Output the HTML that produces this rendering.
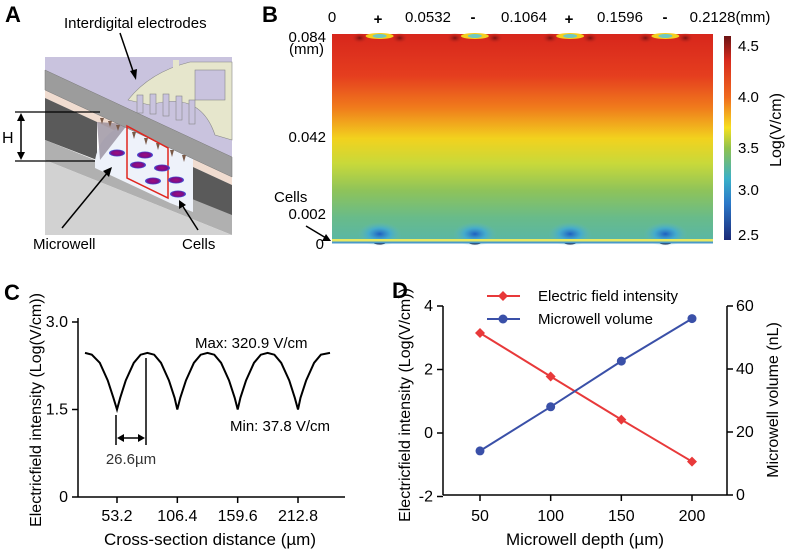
<!DOCTYPE html>
<html><head><meta charset="utf-8"><style>
body{margin:0;background:#fff;}
svg{display:block;font-family:"Liberation Sans",Arial,sans-serif;}
</style></head><body>
<svg id="fig" width="787" height="551" viewBox="0 0 787 551" xmlns="http://www.w3.org/2000/svg">
<defs>
<linearGradient id="fieldGrad" x1="0" y1="0" x2="0" y2="1">
<stop offset="0" stop-color="#d7261c"/><stop offset="0.2" stop-color="#e53e1f"/>
<stop offset="0.35" stop-color="#f07a1c"/><stop offset="0.5" stop-color="#f2d21e"/>
<stop offset="0.62" stop-color="#c8d93a"/><stop offset="0.75" stop-color="#8ec35a"/>
<stop offset="0.88" stop-color="#68bb8a"/><stop offset="1" stop-color="#58b6a8"/>
</linearGradient>
<linearGradient id="cbGrad" x1="0" y1="0" x2="0" y2="1">
<stop offset="0" stop-color="#6b1414"/><stop offset="0.12" stop-color="#d82a1e"/>
<stop offset="0.3" stop-color="#f06a1e"/><stop offset="0.45" stop-color="#f6e01e"/>
<stop offset="0.55" stop-color="#8fc24e"/><stop offset="0.7" stop-color="#3ab0c8"/>
<stop offset="0.82" stop-color="#2b78c8"/><stop offset="1" stop-color="#1b2a78"/>
</linearGradient>
<radialGradient id="blueSpot"><stop offset="0" stop-color="#1e5fc0"/><stop offset="0.5" stop-color="#3aa6e0" stop-opacity="0.7"/><stop offset="1" stop-color="#60b8c0" stop-opacity="0"/></radialGradient>
<radialGradient id="darkSpot"><stop offset="0" stop-color="#7a1010"/><stop offset="1" stop-color="#c82a1e" stop-opacity="0"/></radialGradient>
<radialGradient id="cellGrad"><stop offset="0" stop-color="#a0107a"/><stop offset="0.7" stop-color="#7a0c8a"/><stop offset="1" stop-color="#4060e0"/></radialGradient>
</defs>

<!-- Panel A -->
<g>
<text x="5" y="22" font-size="22" font-weight="bold">A</text>
<polygon points="45,57 232,57 232,157 45,70" fill="#c9c3de"/>
<polygon points="45,90 232,177 232,185 45,98" fill="#f0dcd0"/>
<polygon points="45,98 97,122 97,160 45,140" fill="#5a5a5a"/>
<polygon points="193,167 232,185 232,233 193,215" fill="#5a5a5a"/>
<polygon points="45,140 232,215 232,235 45,160" fill="#b0b0b0"/>
<polygon points="45,160 232,235 45,235" fill="#d2d2d2"/>
<path d="M95,160 Q100,132 128,124 L193,152 L193,212 L170,203 L95,168 Z" fill="#eef2fa"/>
<polygon points="97,122 128,124 100,160" fill="#8a8090" opacity="0.7"/>
<g>
<path d="M128,100 Q150,72 190,62 L232,62 L232,140 L215,135 Q200,90 150,105 Z" fill="#e6e6cc" stroke="#888" stroke-width="0.6"/>
<rect x="173" y="60" width="6" height="18" fill="#e6e6cc"/>
<rect x="195" y="70" width="30" height="30" fill="#c9c3de" stroke="#888" stroke-width="0.6"/>
<g fill="#c9c3de" stroke="#888" stroke-width="0.6">
<rect x="137" y="95" width="6" height="18"/><rect x="150" y="94" width="6" height="20"/>
<rect x="163" y="94" width="6" height="22"/><rect x="176" y="96" width="6" height="24"/>
<rect x="189" y="100" width="6" height="24"/>
</g>
</g>
<polygon points="45,70 232,157 232,177 45,90" fill="#9c9c9c" stroke="#777" stroke-width="0.5"/>
<g fill="#7a5a48">
<polygon points="100,118 104,118 102,124"/><polygon points="108,121 112,121 110,127"/><polygon points="116,125 120,125 118,131"/>
<polygon points="132,132 136,132 134,139"/><polygon points="144,138 148,138 146,145"/><polygon points="156,143 160,143 158,150"/>
<polygon points="170,150 174,150 172,157"/><polygon points="182,155 186,155 184,162"/>
</g>
<polygon points="127,126 168,148 168,198 127,178" fill="none" stroke="#e0261e" stroke-width="1.5"/>
<g fill="url(#cellGrad)">
<ellipse cx="117" cy="153" rx="8" ry="3.5"/><ellipse cx="145" cy="155" rx="8" ry="3.5"/>
<ellipse cx="138" cy="165" rx="8" ry="3.5"/><ellipse cx="162" cy="168" rx="8" ry="3.5"/>
<ellipse cx="153" cy="181" rx="8" ry="3.5"/><ellipse cx="176" cy="180" rx="8" ry="3.5"/>
<ellipse cx="178" cy="194" rx="8" ry="3.5"/>
</g>
<line x1="15" y1="112" x2="100" y2="112" stroke="#000" stroke-width="1.2"/>
<line x1="15" y1="161" x2="95" y2="161" stroke="#000" stroke-width="1.2"/>
<line x1="21" y1="115" x2="21" y2="158" stroke="#000" stroke-width="1.5"/>
<polygon points="21,113 17,121 25,121"/><polygon points="21,160 17,152 25,152"/>
<text x="2" y="143" font-size="16">H</text>
<text x="64" y="28" font-size="15">Interdigital electrodes</text>
<line x1="120" y1="33" x2="134" y2="74" stroke="#000" stroke-width="1.5"/><polygon points="136,80 130,71 137,69"/>
<line x1="62" y1="228" x2="108" y2="172" stroke="#000" stroke-width="1.5"/><polygon points="112,167 103,171 109,177"/>
<text x="33" y="249" font-size="15">Microwell</text>
<line x1="198" y1="230" x2="182" y2="205" stroke="#000" stroke-width="1.5"/><polygon points="179,200 179,209 186,205"/>
<text x="182" y="249" font-size="15">Cells</text>
</g>

<!-- Panel B -->
<g>
<text x="262" y="22" font-size="22" font-weight="bold">B</text>
<rect x="332" y="34" width="381" height="209" fill="url(#fieldGrad)"/>
<g id="spots"></g>
<rect x="332" y="239" width="381" height="2.5" fill="#e8e860"/>
<rect x="332" y="241.5" width="381" height="2" fill="#4a9ac8"/>
<rect x="724" y="36" width="7" height="204" fill="url(#cbGrad)"/>
<g font-size="15">
<text x="738" y="51">4.5</text><text x="738" y="102">4.0</text><text x="738" y="153">3.5</text><text x="738" y="195">3.0</text><text x="738" y="240">2.5</text>
</g>
<text transform="translate(781,130) rotate(-90)" font-size="16" text-anchor="middle">Log(V/cm)</text>
<g font-size="15" text-anchor="middle">
<text x="332" y="22">0</text><text x="378" y="24" font-weight="bold">+</text><text x="428" y="22">0.0532</text>
<text x="473" y="22" font-weight="bold">-</text><text x="524" y="22">0.1064</text><text x="569" y="24" font-weight="bold">+</text>
<text x="620" y="22">0.1596</text><text x="665" y="22" font-weight="bold">-</text>
<text x="730" y="22">0.2128(mm)</text>
</g>
<g font-size="15" text-anchor="end">
<text x="326" y="42">0.084</text><text x="324" y="54">(mm)</text><text x="326" y="142">0.042</text>
<text x="326" y="219">0.002</text><text x="324" y="249">0</text>
</g>
<text x="274" y="202" font-size="15">Cells</text>
<line x1="306" y1="226" x2="326" y2="238" stroke="#000" stroke-width="1.5"/><polygon points="331,241 322,241 326,234"/>
</g>

<!-- Panel C -->
<g>
<text x="4" y="300" font-size="22" font-weight="bold">C</text>
<g id="cAxes"></g>
<path id="cCurve" fill="none" stroke="#000" stroke-width="2"/>
<line x1="116" y1="415" x2="116" y2="445" stroke="#000" stroke-width="1.5"/>
<line x1="146" y1="358" x2="146" y2="445" stroke="#000" stroke-width="1.5"/>
<line x1="120" y1="438" x2="142" y2="438" stroke="#000" stroke-width="1.5"/>
<polygon points="117,438 124,434 124,442"/><polygon points="145,438 138,434 138,442"/>
<text x="131" y="464" font-size="15" text-anchor="middle" fill="#333">26.6µm</text>
<text x="195" y="348" font-size="15">Max: 320.9 V/cm</text>
<text x="230" y="431" font-size="15">Min: 37.8 V/cm</text>
<text x="210" y="545" font-size="17" text-anchor="middle">Cross-section distance (µm)</text>
<text transform="translate(41,410) rotate(-90)" font-size="16" text-anchor="middle">Electricfield intensity (Log(V/cm))</text>
</g>

<!-- Panel D -->
<g>
<text x="392" y="298" font-size="22" font-weight="bold">D</text>
<g id="dAxes"></g>
<g id="dMarks"></g>
<line x1="487" y1="296" x2="520" y2="296" stroke="#e8393a" stroke-width="2"/><polygon points="503,291 508,296 503,301 498,296" fill="#e8393a"/>
<text x="538" y="301" font-size="15">Electric field intensity</text>
<line x1="487" y1="319" x2="520" y2="319" stroke="#3a50a8" stroke-width="2"/><circle cx="503" cy="319" r="4.5" fill="#3a50a8"/>
<text x="538" y="324" font-size="15">Microwell volume</text>
<text x="585" y="545" font-size="17" text-anchor="middle">Microwell depth (µm)</text>
<text transform="translate(410,405) rotate(-90)" font-size="16" text-anchor="middle">Electricfield intensity (Log(V/cm))</text>
<text transform="translate(778,400) rotate(-90)" font-size="16" text-anchor="middle">Microwell volume (nL)</text>
</g>
</svg>
<script>
// Panel B electrode positions (mm)
const bElectrodes = [0.0266, 0.0798, 0.133, 0.1862];
// Panel C data
const cTicksX = [53.2, 106.4, 159.6, 212.8];
const cTicksY = [0, 1.5, 3.0];
const cTickLabelsY = ["0", "1.5", "3.0"];
const cDist = [25,31,38,45,50,53.2,56,61,68,74,80,86,92,99,104,106.4,109,114,121,127,133,139,145,152,157,159.6,162,167,174,180,186,192,198,205,210,212.8,215,220,227,233,241];
const cVal = [2.47,2.44,2.3,2.0,1.7,1.5,1.7,2.0,2.3,2.44,2.47,2.44,2.3,2.0,1.7,1.5,1.7,2.0,2.3,2.44,2.47,2.44,2.3,2.0,1.7,1.5,1.7,2.0,2.3,2.44,2.47,2.44,2.3,2.0,1.7,1.5,1.7,2.0,2.3,2.44,2.47];
// Panel D data
const dDepth = [50, 100, 150, 200];
const dField = [3.15, 1.78, 0.42, -0.9];
const dVolume = [14, 28, 42.5, 56];
const dTicksLeft = [-2, 0, 2, 4];
const dTicksRight = [0, 20, 40, 60];

const NS = "http://www.w3.org/2000/svg";
function mk(tag, attrs, parent){const e=document.createElementNS(NS,tag);for(const k in attrs)e.setAttribute(k,attrs[k]);parent.appendChild(e);return e;}

// B
const bx = v => 332 + v/0.2128*381;
const spots = document.getElementById('spots');
bElectrodes.forEach(v=>{
  const x=bx(v);
  const s1=mk('ellipse',{cx:x,cy:234,rx:22,ry:12,fill:'url(#blueSpot)'},spots);
  
  
  mk('ellipse',{cx:x-20,cy:38,rx:8,ry:5,fill:'url(#darkSpot)'},spots);
  mk('ellipse',{cx:x+20,cy:38,rx:8,ry:5,fill:'url(#darkSpot)'},spots);
  const t=mk('ellipse',{cx:x,cy:36,rx:14,ry:3,fill:'#f4d020'},spots);
  
  
  mk('ellipse',{cx:x,cy:36,rx:7,ry:2,fill:'#70c8c0'},spots);
  mk('ellipse',{cx:x,cy:243,rx:6,ry:1.5,fill:'#101840'},spots);
});

// C
const cx = d => 117 + (d-53.2)*(181/159.6);
const cy = v => 497 - v*(175/3);
const cA = document.getElementById('cAxes');
mk('line',{x1:78,y1:318,x2:78,y2:497,stroke:'#000','stroke-width':1.5},cA);
mk('line',{x1:78,y1:497,x2:345,y2:497,stroke:'#000','stroke-width':1.5},cA);
cTicksY.forEach((v,i)=>{
  mk('line',{x1:72,y1:cy(v),x2:78,y2:cy(v),stroke:'#000','stroke-width':1.5},cA);
  const t=mk('text',{x:68,y:cy(v)+5,'font-size':16,'text-anchor':'end'},cA);t.textContent=cTickLabelsY[i];
  
  
});
cTicksX.forEach(v=>{
  mk('line',{x1:cx(v),y1:497,x2:cx(v),y2:503,stroke:'#000','stroke-width':1.5},cA);
  const t=mk('text',{x:cx(v),y:521,'font-size':16,'text-anchor':'middle'},cA);t.textContent=v.toFixed(1);
  
  
});
document.getElementById('cCurve').setAttribute('d', cDist.map((d,i)=>(i?'L':'M')+cx(d).toFixed(1)+','+cy(cVal[i]).toFixed(1)).join(' '));

// D
const dx = v => 480 + (v-50)*(212/150);
const dyL = v => 433 - v*(127/4);
const dyR = v => 495 - v*(189/60);
const dA = document.getElementById('dAxes');
mk('line',{x1:443,y1:306,x2:443,y2:495,stroke:'#000','stroke-width':1.5},dA);
mk('line',{x1:727,y1:306,x2:727,y2:495,stroke:'#000','stroke-width':1.5},dA);
mk('line',{x1:443,y1:495,x2:727,y2:495,stroke:'#000','stroke-width':1.5},dA);
dTicksLeft.forEach(v=>{
  mk('line',{x1:437,y1:dyL(v),x2:443,y2:dyL(v),stroke:'#000','stroke-width':1.5},dA);
  const t=mk('text',{x:433,y:dyL(v)+5,'font-size':16,'text-anchor':'end'},dA);t.textContent=v;
  
  
});
dTicksRight.forEach(v=>{
  mk('line',{x1:727,y1:dyR(v),x2:733,y2:dyR(v),stroke:'#000','stroke-width':1.5},dA);
  const t=mk('text',{x:736,y:dyR(v)+5,'font-size':16},dA);t.textContent=v;
  
  
});
dDepth.forEach(v=>{
  mk('line',{x1:dx(v),y1:495,x2:dx(v),y2:501,stroke:'#000','stroke-width':1.5},dA);
  const t=mk('text',{x:dx(v),y:521,'font-size':16,'text-anchor':'middle'},dA);t.textContent=v;
  
  
});
const dM = document.getElementById('dMarks');
const lf=mk('polyline',{points:dDepth.map((d,i)=>dx(d)+','+dyL(dField[i])).join(' '),fill:'none',stroke:'#e8393a','stroke-width':2},dM);


const lv=mk('polyline',{points:dDepth.map((d,i)=>dx(d)+','+dyR(dVolume[i])).join(' '),fill:'none',stroke:'#3a50a8','stroke-width':2},dM);


dDepth.forEach((d,i)=>{
  const x=dx(d), y=dyL(dField[i]);
  const p=mk('polygon',{points:`${x},${y-5} ${x+5},${y} ${x},${y+5} ${x-5},${y}`,fill:'#e8393a'},dM);
  
  
  const c=mk('circle',{cx:x,cy:dyR(dVolume[i]),r:4.5,fill:'#3a50a8'},dM);
  
  
});
</script>
</body></html>
